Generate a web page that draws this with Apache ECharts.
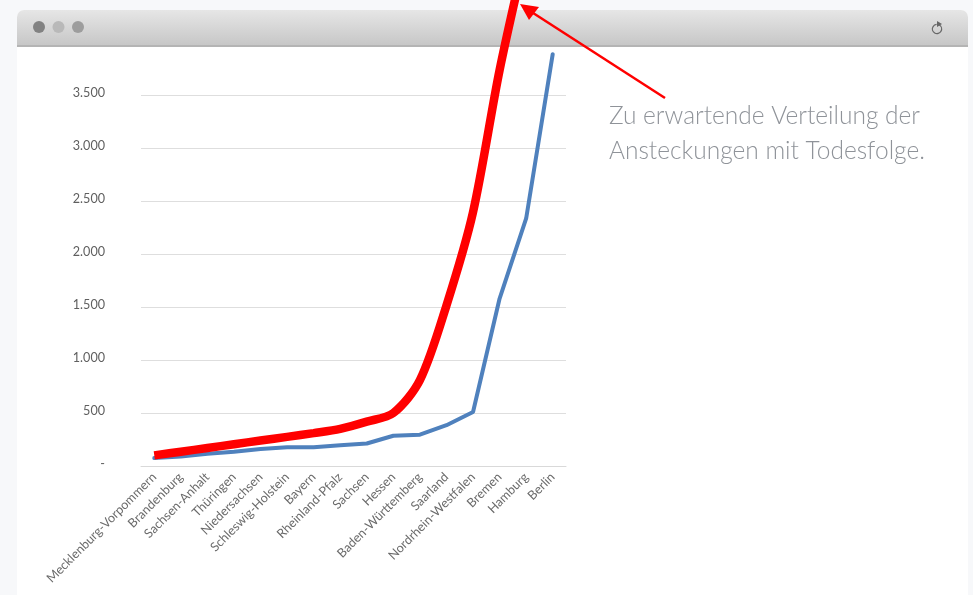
<!DOCTYPE html>
<html><head><meta charset="utf-8">
<style>html,body{margin:0;padding:0;background:#f7f8fa}#c{width:973px;height:595px}</style>
<script src="https://cdn.jsdelivr.net/npm/echarts@6/dist/echarts.min.js"></script>
</head><body><div id="c"></div>
<script>
const categories = ["Mecklenburg-Vorpommern","Brandenburg","Sachsen-Anhalt","Thüringen","Niedersachsen","Schleswig-Holstein","Bayern","Rheinland-Pfalz","Sachsen","Hessen","Baden-Württemberg","Saarland","Nordrhein-Westfalen","Bremen","Hamburg","Berlin"];
const actual = [75,90,115,135,160,178,178,195,212,285,295,385,510,1580,2335,3885];
const expected = [100,135,170,205,240,275,310,350,418,500,810,1515,2395,3735,4860];
const note = ["Zu erwartende Verteilung der","Ansteckungen mit Todesfolge."];
const fmt = v => v === 0 ? "-" : String(v).replace(/\B(?=(\d{3})+$)/g, ".");
const chart = echarts.init(document.getElementById('c'), null, {renderer:'canvas'});
chart.setOption({
  backgroundColor:'#f7f8fa',
  animation:false,
  grid:{left:141,right:407,top:95,bottom:129},
  xAxis:{type:'category',data:categories,boundaryGap:true,
    axisTick:{show:false},
    axisLine:{lineStyle:{color:'#d9d9d9',width:1}},
    axisLabel:{interval:0,rotate:45,fontFamily:'Lato',fontSize:12.6,color:'#6a6a6a',margin:9}},
  yAxis:{type:'value',min:0,max:3500,interval:500,
    axisLine:{show:false},axisTick:{show:false},
    splitLine:{lineStyle:{color:'#dedede',width:1}},
    axisLabel:{formatter:fmt,fontFamily:'Lato',fontSize:12.6,color:'#5f5f5f',margin:36,verticalAlign:'bottom',lineHeight:5}},
  series:[
    {name:'actual',type:'line',data:actual,symbol:'none',clip:false,z:3,
     lineStyle:{color:'#4f81bd',width:4,cap:'round'}},
    {name:'expected',type:'line',data:expected,symbol:'none',clip:false,z:4,smooth:0.3,
     lineStyle:{color:'#ff0000',width:8.5,cap:'butt'}}
  ],
  graphic:[
    {type:'rect',z:-10,silent:true,shape:{x:17,y:10,width:951,height:600,r:[7,7,0,0]},style:{fill:'#ffffff'}},
    {type:'rect',z:-9,silent:true,shape:{x:17,y:10,width:951,height:36,r:[7,7,0,0]},
     style:{fill:new echarts.graphic.LinearGradient(0,0,0,1,[{offset:0,color:'#e6e6e6'},{offset:1,color:'#c6c6c6'}])}},
    {type:'rect',z:-8,silent:true,shape:{x:17,y:45,width:951,height:2},style:{fill:'#b4b4b4'}},
    {type:'circle',z:-7,silent:true,shape:{cx:39,cy:27,r:6},style:{fill:'#828282'}},
    {type:'circle',z:-7,silent:true,shape:{cx:58.5,cy:27,r:6},style:{fill:'#b9b9b9'}},
    {type:'circle',z:-7,silent:true,shape:{cx:78,cy:27,r:6},style:{fill:'#9d9d9d'}},
    {type:'arc',z:-7,silent:true,shape:{cx:937,cy:29,r:4.6,startAngle:-Math.PI/3,endAngle:-Math.PI/1.9,clockwise:true},
     style:{fill:'none',stroke:'#666',lineWidth:1.3}},
    {type:'polygon',z:-7,silent:true,shape:{points:[[937,21],[942,24],[937,27]]},style:{fill:'#666'}},
    {type:'line',z:20,silent:true,shape:{x1:665,y1:98,x2:530,y2:11},style:{stroke:'#ff0000',lineWidth:2.5}},
    {type:'polygon',z:20,silent:true,shape:{points:[[520,4],[539,7],[529,20]]},style:{fill:'#ff0000'}},
    {type:'text',z:20,silent:true,x:609,y:116,style:{text:note[0],fontFamily:'Lato',fontWeight:300,fontSize:24.5,fill:'#8f9399',verticalAlign:'middle'}},
    {type:'text',z:20,silent:true,x:609,y:151,style:{text:note[1],fontFamily:'Lato',fontWeight:300,fontSize:24.5,fill:'#8f9399',verticalAlign:'middle'}}
  ]
});
</script></body></html>
